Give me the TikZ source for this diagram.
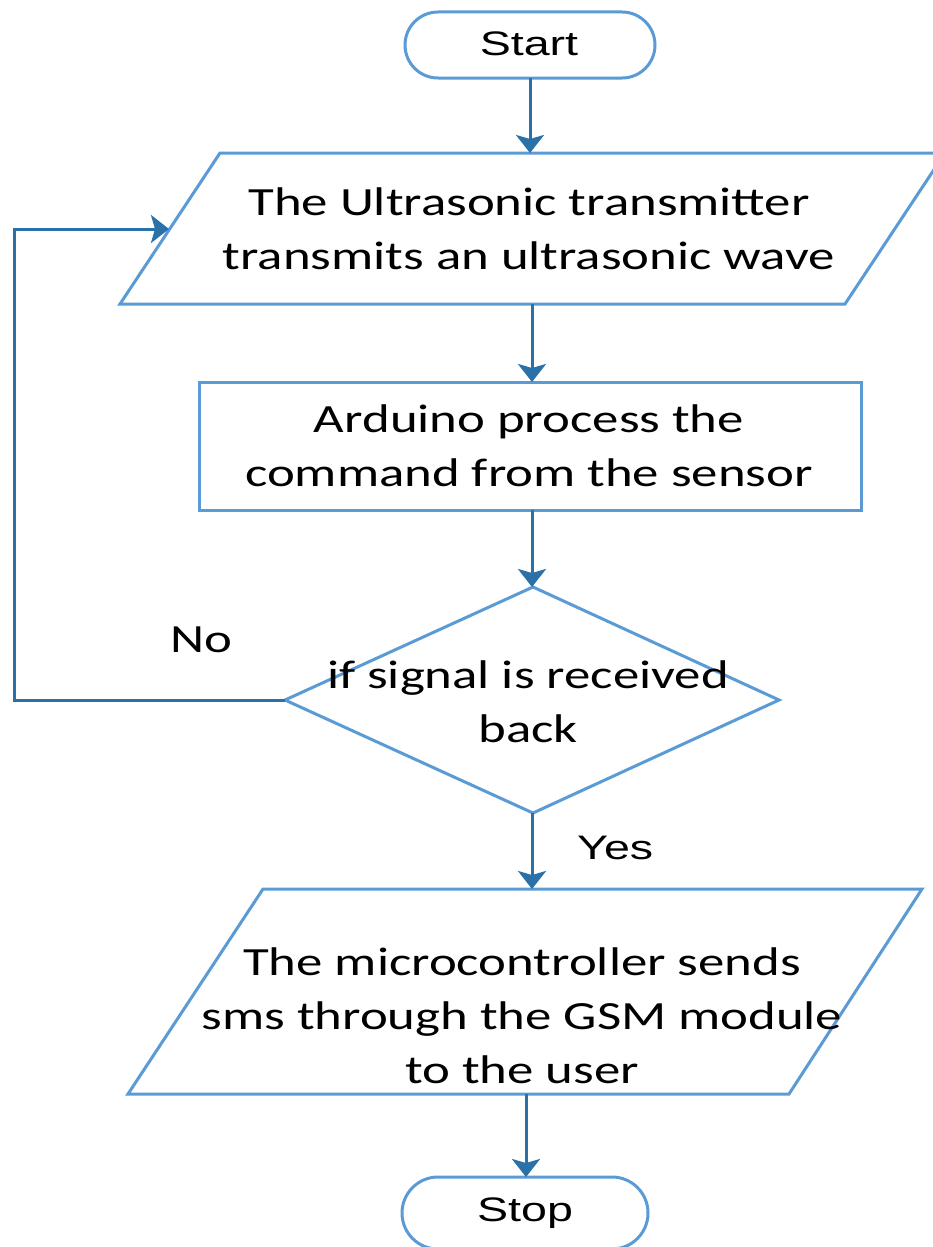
\documentclass[tikz,border=0pt]{standalone}
\usepackage{fontspec}
\usetikzlibrary{arrows.meta}
\newfontfamily\bodyfont[FakeStretch=1.32]{Carlito}
\newfontfamily\termfont[FakeStretch=1.37]{Liberation Sans}
\definecolor{borderblue}{HTML}{5B9BD5}
\definecolor{arrowblue}{HTML}{2971A6}
\tikzset{
  shapeline/.style={draw=borderblue, line width=3pt, line join=miter},
  conn/.style={draw=arrowblue, line width=3pt, -{Stealth[length=18pt,width=28pt,inset=4pt]}},
  bodytext/.style={inner sep=0pt, anchor=base, font=\bodyfont\fontsize{40}{54}\selectfont},
  termtext/.style={inner sep=0pt, anchor=base, font=\termfont\fontsize{34}{40}\selectfont},
}
\begin{document}
\begin{tikzpicture}[x=1pt, y=-1pt]
\useasboundingbox (0,0) rectangle (932,1247);
\fill[white] (0,0) rectangle (932,1247);

% shapes
\draw[shapeline, rounded corners=33pt] (405,12) rectangle (655,78);
\draw[shapeline] (220,153) -- (945,153) -- (845,304) -- (120,304) -- cycle;
\draw[shapeline] (199,382) rectangle (861,510);
\draw[shapeline] (533,587) -- (779,700) -- (533,813) -- (285,700) -- cycle;
\draw[shapeline] (263,889) -- (922,889) -- (789,1094) -- (128,1094) -- cycle;
\draw[shapeline, rounded corners=36pt] (402,1177) rectangle (648,1249);

% connection points
\coordinate (startS) at (530,78);
\coordinate (inN) at (530,153);
\coordinate (inS) at (532,304);
\coordinate (procN) at (532,382);
\coordinate (procS) at (532,510);
\coordinate (decN) at (532,587);
\coordinate (decW) at (285,700);
\coordinate (decS) at (532,813);
\coordinate (outN) at (532,889);
\coordinate (outS) at (526,1094);
\coordinate (stopN) at (526,1177);
\coordinate (inW) at (169,229);
\coordinate (loopA) at (14,700);
\coordinate (loopB) at (14,229);

% texts
\node[termtext] (start) at (529,56) {Start};
\node[bodytext] (input) at (529,215) {\begin{tabular}[t]{@{}c@{}}The Ultrasonic transmitter\\transmits an ultrasonic wave\end{tabular}};
\node[bodytext] (proc) at (529,432) {\begin{tabular}[t]{@{}c@{}}Arduino process the\\command from the sensor\end{tabular}};
\node[bodytext] (dec) at (528,688) {\begin{tabular}[t]{@{}c@{}}if signal is received\\back\end{tabular}};
\node[bodytext] (out) at (522,975) {\begin{tabular}[t]{@{}c@{}}The microcontroller sends\\sms through the GSM module\\to the user\end{tabular}};
\node[termtext] (stop) at (525,1221) {Stop};
\node[bodytext, anchor=base west] (no) at (170,652) {No};
\node[termtext, anchor=base west] (yes) at (577,859) {Yes};

% connectors
\draw[conn] (startS) -- (inN);
\draw[conn] (inS) -- (procN);
\draw[conn] (procS) -- (decN);
\draw[conn] (decS) -- (outN);
\draw[conn] (outS) -- (stopN);
\draw[conn] (decW) -- (loopA) -- (loopB) -- (inW);
\end{tikzpicture}
\end{document}
